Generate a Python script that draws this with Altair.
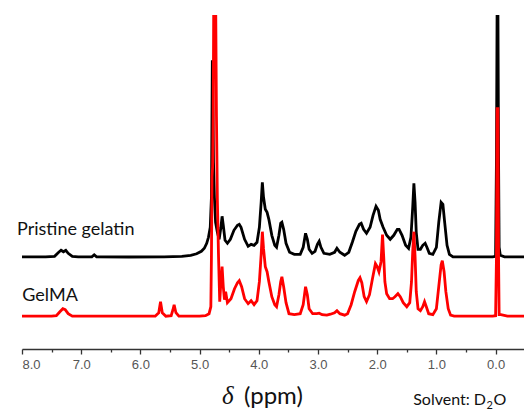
import altair as alt
import pandas as pd

# --- spectrum data (ppm, intensity above own baseline) ---
ppm_gelatin = [8.00, 7.60, 7.45, 7.38, 7.34, 7.30, 7.26, 7.22, 7.15, 7.05, 6.82, 6.78, 6.74, 6.20, 5.60,
               5.30, 5.15, 5.05, 4.97, 4.92, 4.88, 4.85, 4.82, 4.80, 4.79, 4.785, 4.775, 4.765, 4.75, 4.73,
               4.70, 4.67, 4.64, 4.62, 4.60, 4.57, 4.53, 4.48, 4.42, 4.36, 4.33, 4.30, 4.24, 4.18, 4.13,
               4.08, 4.03, 3.99, 3.96, 3.94, 3.92, 3.89, 3.86, 3.83, 3.78, 3.73, 3.70, 3.66, 3.63, 3.61,
               3.58, 3.54, 3.48, 3.40, 3.30, 3.25, 3.21, 3.18, 3.15, 3.10, 3.05, 3.01, 2.98, 2.95, 2.90,
               2.80, 2.72, 2.68, 2.63, 2.55, 2.48, 2.42, 2.36, 2.30, 2.27, 2.23, 2.18, 2.12, 2.07, 2.02,
               1.98, 1.95, 1.90, 1.84, 1.78, 1.72, 1.66, 1.63, 1.58, 1.52, 1.47, 1.43, 1.40, 1.38, 1.36,
               1.34, 1.31, 1.27, 1.23, 1.19, 1.16, 1.12, 1.06, 1.00, 0.96, 0.92, 0.89, 0.86, 0.82, 0.78,
               0.72, 0.40, 0.05, 0.00, -0.015, -0.025, -0.04, -0.05, -0.06, -0.08, -0.15, -0.48]
int_gelatin = [0.5, 0.5, 1, 5, 7, 5.5, 7, 4, 1, 0.5, 0.5, 2.5, 0.5, 0.3, 0.5,
               1, 2, 3.5, 6, 9, 14, 20, 30, 60, 150, 197, 150, 95, 60, 35,
               25, 18, 30, 41, 32, 17, 14, 18, 27, 32, 33, 30, 18, 11, 13,
               12, 15, 30, 55, 75, 60, 48, 45, 38, 22, 12, 10, 22, 34, 35,
               28, 14, 5, 3, 3, 10, 24, 18, 8, 4, 6, 13, 16, 10, 4,
               3, 5, 9, 5, 2, 5, 15, 26, 33, 34, 28, 24, 30, 42, 51,
               47, 38, 30, 22, 18, 22, 28, 28, 22, 12, 9, 20, 50, 74, 55,
               25, 8, 8, 12, 14, 10, 4, 3, 10, 35, 55, 53, 35, 12, 3,
               0.5, 0.5, 0.5, 1, 100, 242, 242, 100, 10, 2, 0.5, 0.5]

ppm_gelma = [8.00, 7.50, 7.42, 7.36, 7.31, 7.27, 7.22, 7.15, 6.50, 5.75, 5.69, 5.66, 5.63, 5.57, 5.48,
             5.45, 5.43, 5.40, 5.35, 5.00, 4.90, 4.84, 4.81, 4.80, 4.79, 4.78, 4.77, 4.76, 4.73, 4.715,
             4.70, 4.68, 4.66, 4.64, 4.62, 4.60, 4.58, 4.56, 4.53, 4.47, 4.41, 4.36, 4.33, 4.29, 4.24,
             4.18, 4.13, 4.08, 4.03, 3.99, 3.96, 3.94, 3.92, 3.89, 3.86, 3.83, 3.78, 3.73, 3.70, 3.66,
             3.63, 3.61, 3.58, 3.54, 3.49, 3.40, 3.30, 3.25, 3.21, 3.18, 3.15, 3.09, 3.02, 2.98, 2.93,
             2.85, 2.79, 2.72, 2.68, 2.63, 2.55, 2.50, 2.44, 2.38, 2.32, 2.29, 2.26, 2.22, 2.18, 2.13,
             2.08, 2.03, 2.00, 1.97, 1.935, 1.91, 1.89, 1.87, 1.84, 1.79, 1.74, 1.70, 1.65, 1.61, 1.56,
             1.50, 1.45, 1.42, 1.40, 1.38, 1.36, 1.34, 1.31, 1.27, 1.23, 1.20, 1.17, 1.13, 1.06, 1.00,
             0.96, 0.92, 0.90, 0.87, 0.84, 0.80, 0.76, 0.70, 0.30, 0.05, 0.00, -0.015, -0.025, -0.04, -0.05,
             -0.06, -0.09, -0.20, -0.48]
int_gelma = [0.5, 0.5, 1, 5, 8, 7, 3, 0.5, 0.5, 0.5, 4, 15, 4, 0.5, 1,
             7, 12, 4, 0.5, 0.5, 1, 3, 10, 60, 140, 150, 200, 330, 330, 200,
             118, 60, 15, 35, 50, 30, 17, 25, 14, 18, 28, 34, 36, 30, 18,
             13, 16, 12, 16, 35, 62, 85, 68, 50, 45, 35, 20, 12, 10, 22,
             35, 40, 30, 14, 3, 2, 3, 12, 30, 22, 8, 3, 3, 3.5, 2,
             1.5, 2.5, 4, 6, 3, 1.5, 3, 12, 25, 36, 39, 34, 20, 15, 22,
             38, 53, 50, 45, 55, 82, 60, 35, 23, 18, 18, 20, 23, 20, 14,
             10, 14, 35, 65, 85, 60, 25, 8, 6, 10, 15, 10, 3, 2, 8,
             30, 52, 56, 45, 25, 8, 1.5, 0.5, 0.5, 0.5, 1, 60, 208, 208, 60,
             2, 2, 0.5, 0.5]

tick_values = [8.0, 7.5, 7.0, 6.5, 6.0, 5.5, 5.0, 4.5, 4.0, 3.5, 3.0, 2.5, 2.0, 1.5, 1.0, 0.5, 0.0]

gel_df = pd.DataFrame({"ppm": ppm_gelatin, "intensity": int_gelatin})
gelma_df = pd.DataFrame({"ppm": ppm_gelma, "intensity": int_gelma})

W, H = 502, 334

x_enc = alt.X(
    "ppm:Q",
    title=None,
    scale=alt.Scale(domain=[-0.48, 8.0], reverse=True, nice=False, zero=False),
    axis=alt.Axis(
        values=tick_values,
        labelExpr="datum.value % 1 === 0 ? format(datum.value, '.1f') : ''",
        tickSize={"condition": {"test": "datum.value % 1 !== 0", "value": 3}, "value": 5},
        grid=False,
        domainColor="#333333",
        domainWidth=1.3,
        tickColor="#333333",
        tickWidth=1.3,
        labelColor="#555555",
        labelFont="Liberation Sans",
        labelFontSize=13,
        labelPadding=4,
    ),
)
y_enc = alt.Y("y:Q", scale=alt.Scale(domain=[0, H], nice=False, zero=False), axis=None)

black = (
    alt.Chart(gel_df)
    .transform_calculate(y="datum.intensity + 91.7")
    .mark_line(color="#000000", strokeWidth=2.8, clip=True)
    .encode(x=x_enc, y=y_enc)
)
red = (
    alt.Chart(gelma_df)
    .transform_calculate(y="datum.intensity + 32.3")
    .mark_line(color="#ff0000", strokeWidth=2.8, clip=True)
    .encode(x=x_enc, y=y_enc)
)


def label(txt, x, y, size, font="Lato", style="normal", align="left", color="#111111"):
    return (
        alt.Chart(pd.DataFrame({"t": [txt]}))
        .mark_text(font=font, fontSize=size, fontStyle=style, align=align,
                   baseline="alphabetic", color=color)
        .encode(text="t:N", x=alt.value(x), y=alt.value(y))
    )


texts = [
    label("Pristine gelatin", -5, 219.7, 18),
    label("GelMA", 0.3, 286, 18),
    label("δ", 200, 389, 25, font="Liberation Serif", style="italic"),
    label("(ppm)", 222, 389, 24),
    label("Solvent: D", 464, 390, 16, align="right"),
    label("2", 464.5, 394, 11),
    label("O", 471.5, 390, 16),
]

chart = (
    alt.layer(black, red, *texts)
    .properties(
        width=W,
        height=H,
        padding={"left": 22, "top": 15, "right": 0, "bottom": 62},
        autosize=alt.AutoSizeParams(type="none"),
    )
    .configure_view(stroke=None)
)

chart.save("out.html", embed_options={"renderer": "svg", "actions": False})
